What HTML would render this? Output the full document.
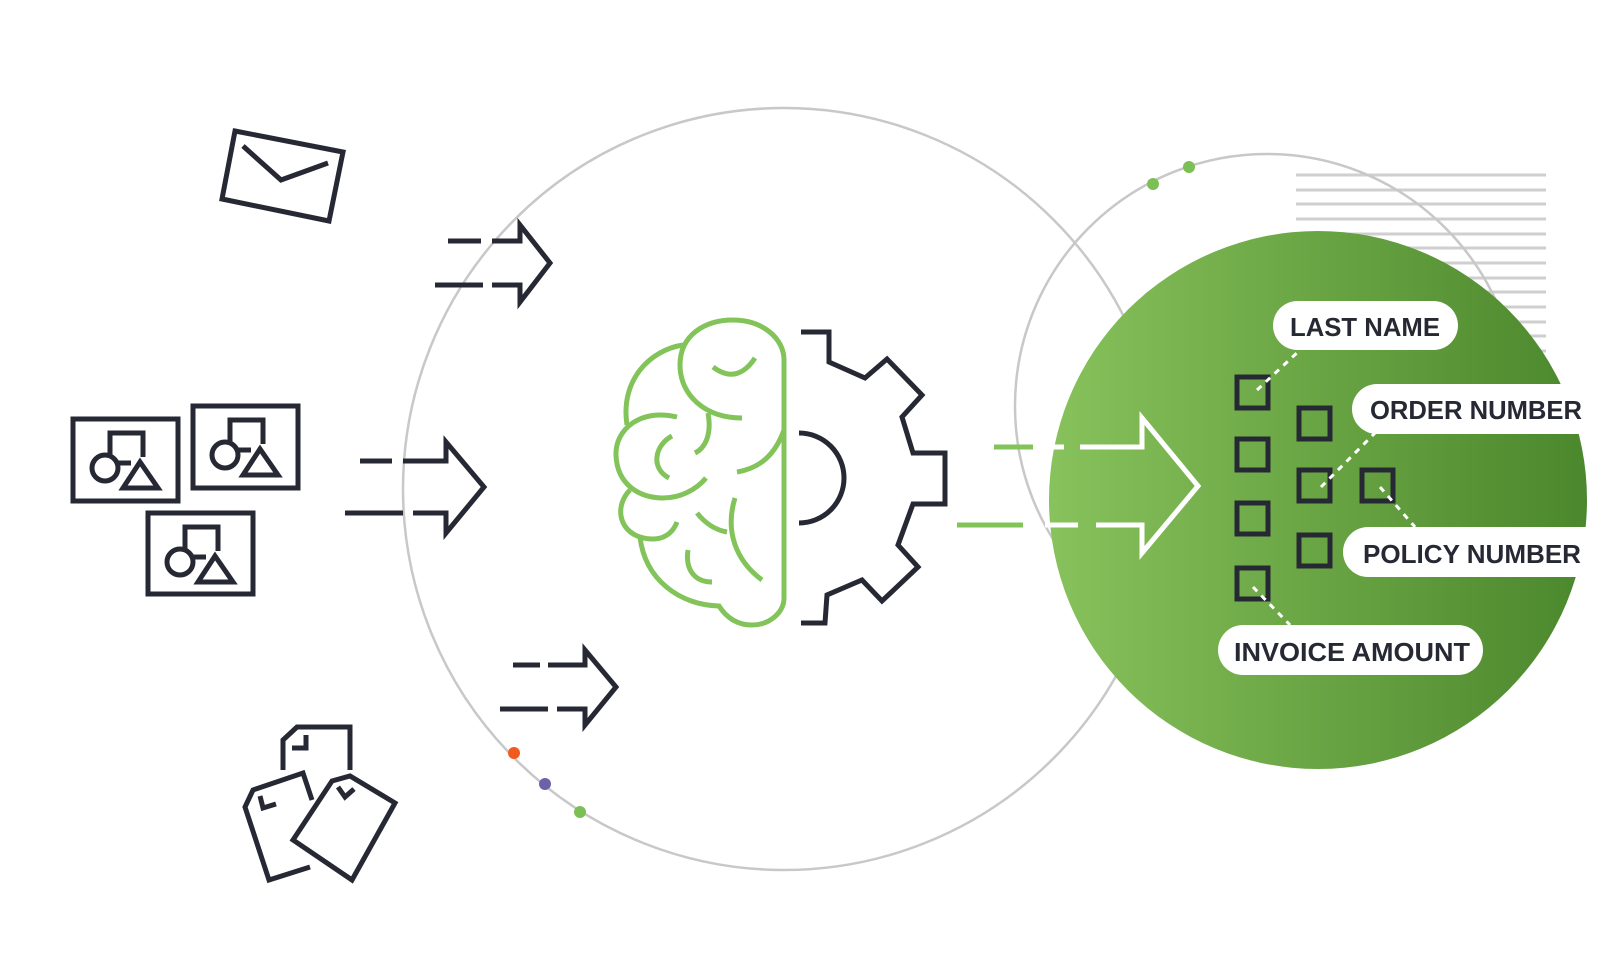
<!DOCTYPE html>
<html><head><meta charset="utf-8"><style>
html,body{margin:0;padding:0;background:#fff;}
svg{display:block;}
text{font-family:"Liberation Sans",sans-serif;font-weight:bold;fill:#262933;}
</style></head><body>
<svg width="1600" height="971" viewBox="0 0 1600 971" xmlns="http://www.w3.org/2000/svg">
<defs>
<linearGradient id="g" x1="0" x2="1" y1="0" y2="0">
<stop offset="0" stop-color="#88c25c"/><stop offset="1" stop-color="#4b872c"/>
</linearGradient>
</defs>
<rect width="1600" height="971" fill="#fff"/>
<g stroke="#cfcfcf" stroke-width="3">
<line x1="1296" y1="175" x2="1546" y2="175"/><line x1="1296" y1="190" x2="1546" y2="190"/>
<line x1="1296" y1="204" x2="1546" y2="204"/><line x1="1296" y1="219" x2="1546" y2="219"/>
<line x1="1296" y1="234" x2="1546" y2="234"/><line x1="1296" y1="248" x2="1546" y2="248"/>
<line x1="1296" y1="263" x2="1546" y2="263"/><line x1="1296" y1="278" x2="1546" y2="278"/>
<line x1="1296" y1="292" x2="1546" y2="292"/><line x1="1296" y1="307" x2="1546" y2="307"/>
<line x1="1296" y1="322" x2="1546" y2="322"/><line x1="1296" y1="336" x2="1546" y2="336"/>
<line x1="1296" y1="351" x2="1546" y2="351"/>
</g>
<circle cx="784" cy="489" r="381" fill="none" stroke="#c8c8c8" stroke-width="2.5"/>
<circle cx="1267" cy="406" r="252" fill="none" stroke="#c8c8c8" stroke-width="2.5"/>
<circle cx="1318" cy="500" r="269" fill="url(#g)"/>
<circle cx="1153" cy="184" r="6" fill="#7cbf55"/>
<circle cx="1189" cy="167" r="6" fill="#7cbf55"/>
<circle cx="514" cy="753" r="6" fill="#f25a1d"/>
<circle cx="545" cy="784" r="6" fill="#6a63a8"/>
<circle cx="580" cy="812" r="6" fill="#7cbf55"/>

<g fill="none" stroke="#262933" stroke-width="5">
<path d="M235,131 L343,152 L329,221 L222,199 Z"/>
<path d="M243,146 L281,180 L328,163"/>
<g transform="translate(73,419)"><rect x="0" y="0" width="105" height="82"/><path d="M37,44 V14 H70 V38"/><circle cx="32" cy="49" r="13" fill="#fff"/><path d="M45,44 H58"/><path d="M50,69 L67,43 L85,69 Z"/></g>
<g transform="translate(193,406)"><rect x="0" y="0" width="105" height="82"/><path d="M37,44 V14 H70 V38"/><circle cx="32" cy="49" r="13" fill="#fff"/><path d="M45,44 H58"/><path d="M50,69 L67,43 L85,69 Z"/></g>
<g transform="translate(148,513)"><rect x="0" y="0" width="105" height="81"/><path d="M37,44 V14 H70 V38"/><circle cx="32" cy="49" r="13" fill="#fff"/><path d="M45,44 H58"/><path d="M50,69 L67,43 L85,69 Z"/></g>
<path d="M283,770 V740 L297,727 H350 V770"/>
<path d="M292,748 H306 V735"/>
<path d="M312,800 L303,773 L253,790 L245,807 L269,880 L310,867"/>
<path d="M260,796 L263,808 L276,804"/>
<path d="M293,840 L332,781 L350,776 L395,803 L352,880 Z"/>
<path d="M338,787 L345,797 L354,789"/>
<path d="M448,241 H481 M492,241 H520 V225 L550,263 L520,302 V285 H492 M483,285 H435"/>
<path d="M360,461 H392 M403,461 H446 V442 L484,487 L446,533 V513 H413 M403,513 H345"/>
<path d="M513,665 H540 M548,665 H585 V650 L616,687 L585,725 V709 H557 M548,709 H500"/>
<path d="M801,332 H829 V362 L865,378 L887,359 L922,395 L902,417 L913,453 H945 V504 H913 L898,545 L918,567 L882,601 L862,580 L827,595 L825,623 H801"/>
<path d="M799,433 A45,45 0 0 1 799,523"/>
</g>
<g fill="none" stroke="#82c35a" stroke-width="5" stroke-linecap="butt">
<path d="M742,418 C705,418 680,395 680,365 C680,335 705,320 733,320 C762,320 784,338 784,360 L784,598 C784,612 770,625 752,625 C740,625 728,620 719,606 C680,605 645,580 640,537"/>
<path d="M713,367 Q737,385 755,358"/>
<path d="M683,345 C650,350 620,380 627,425"/>
<path d="M677,417 C640,408 615,430 616,455 C617,485 640,498 663,498 C680,498 696,490 706,478"/>
<path d="M672,436 C655,445 650,468 669,478"/>
<path d="M708,413 C712,435 705,448 695,453"/>
<path d="M784,430 C775,455 760,468 737,472"/>
<path d="M630,490 C615,505 618,530 640,537 C660,543 672,535 677,522"/>
<path d="M697,513 C705,523 715,530 727,532"/>
<path d="M735,498 C725,530 735,560 762,580"/>
<path d="M688,550 C685,570 695,582 712,582"/>
</g>
<g fill="none" stroke-width="5">
<path d="M994,447 H1033" stroke="#82c35a"/>
<path d="M957,525 H1023" stroke="#82c35a"/>
<path d="M1046,447 H1064 M1080,447 H1142 V418 L1198,486 L1142,553 V525 H1096 M1078,525 H1045" stroke="#fff"/>
</g>
<g fill="none" stroke="#262933" stroke-width="5">
<rect x="1237" y="377" width="31" height="31"/><rect x="1237" y="439" width="31" height="31"/>
<rect x="1237" y="503" width="31" height="31"/><rect x="1237" y="568" width="31" height="31"/>
<rect x="1299" y="408" width="31" height="31"/><rect x="1299" y="470" width="31" height="31"/>
<rect x="1299" y="535" width="31" height="31"/><rect x="1362" y="470" width="31" height="31"/>
</g>
<g stroke="#fff" stroke-width="3" stroke-dasharray="6,6" fill="none">
<path d="M1257,390 L1300,350"/><path d="M1321,487 L1375,433"/>
<path d="M1380,487 L1415,527"/><path d="M1253,587 L1290,625"/>
</g>
<rect x="1273" y="301" width="185" height="49" rx="24.5" fill="#fff"/>
<text x="1290" y="336" font-size="26" textLength="150" lengthAdjust="spacingAndGlyphs">LAST NAME</text>
<rect x="1352" y="384" width="280" height="50" rx="25" fill="#fff"/>
<text x="1370" y="419" font-size="26" textLength="212" lengthAdjust="spacingAndGlyphs">ORDER NUMBER</text>
<rect x="1343" y="527" width="290" height="50" rx="25" fill="#fff"/>
<text x="1363" y="563" font-size="26" textLength="218" lengthAdjust="spacingAndGlyphs">POLICY NUMBER</text>
<rect x="1218" y="625" width="265" height="50" rx="25" fill="#fff"/>
<text x="1234" y="661" font-size="26" textLength="236" lengthAdjust="spacingAndGlyphs">INVOICE AMOUNT</text>
</svg>
</body></html>
